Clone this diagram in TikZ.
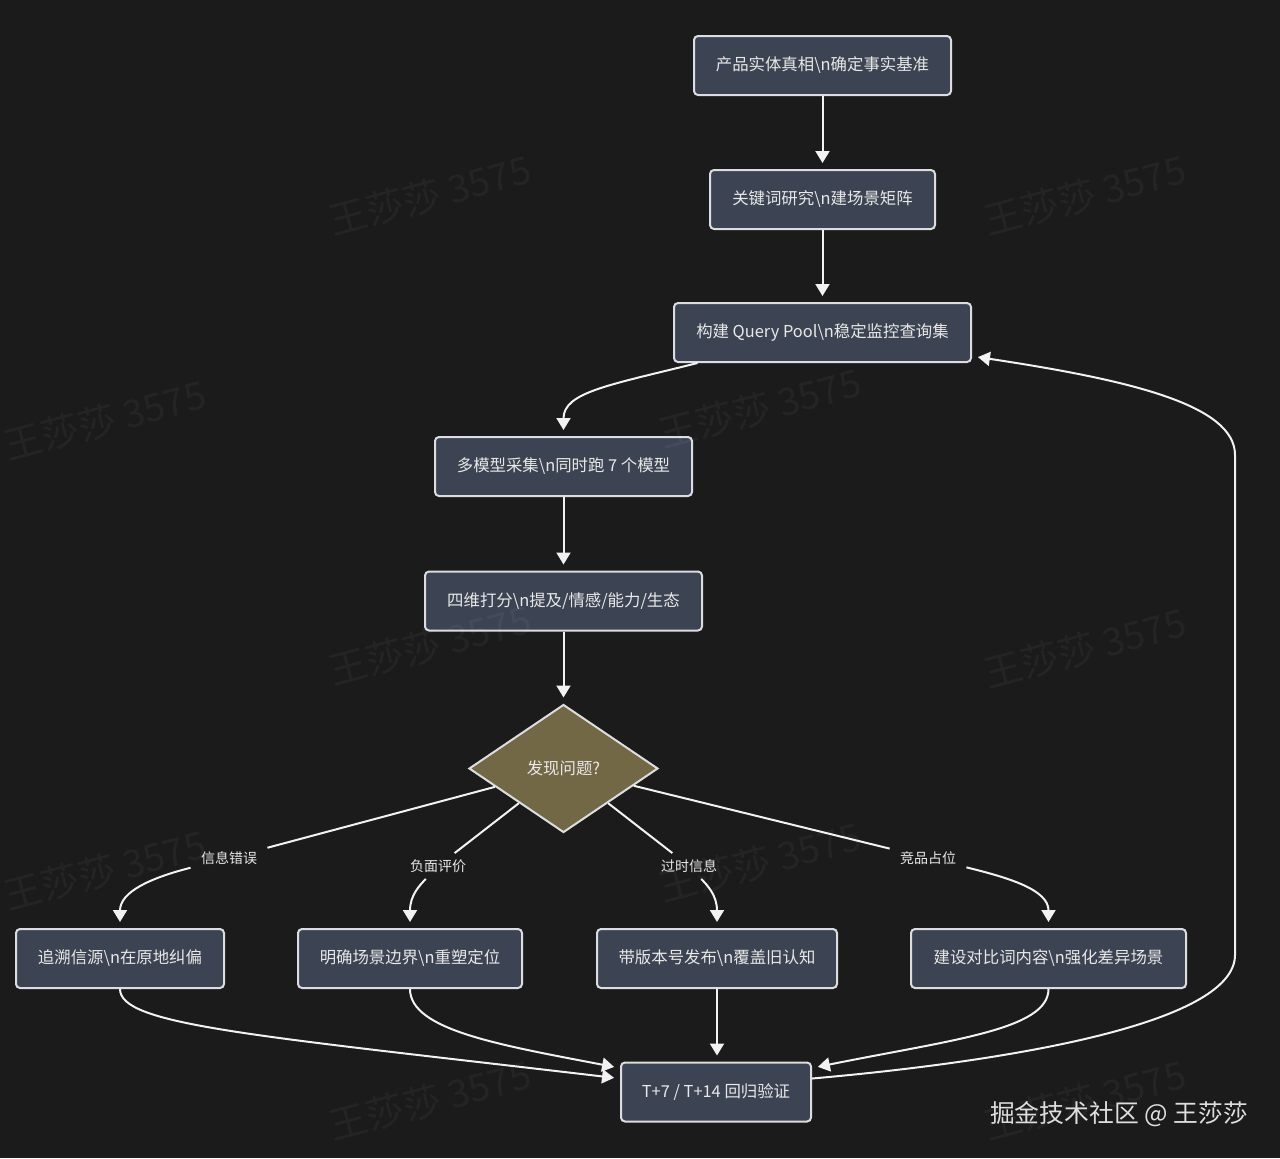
\documentclass[tikz,border=0pt]{standalone}
\usepackage{fontspec}
\setmainfont{Noto Sans CJK SC}
\usetikzlibrary{shapes.geometric,arrows.meta,calc}
\definecolor{bg}{HTML}{1B1B1B}
\definecolor{boxfill}{HTML}{3C4352}
\definecolor{boxline}{HTML}{DCDDE0}
\definecolor{dfill}{HTML}{736845}
\definecolor{txt}{HTML}{E8E8E8}
\definecolor{edge}{HTML}{F2F2F2}
\begin{document}
\begin{tikzpicture}[x=0.5pt,y=-0.5pt,
  box/.style={draw=boxline, line width=1pt, fill=boxfill, rounded corners=2pt,
    text=txt, minimum height=29.5pt, inner sep=0pt,
    font=\fontsize{8.2}{10}\selectfont},
  dec/.style={diamond, draw=boxline, line width=1pt, fill=dfill, aspect=1.48,
    minimum width=94.5pt, minimum height=64pt, inner sep=0pt, text=txt,
    font=\fontsize{8.2}{10}\selectfont},
  lbl/.style={text=txt, inner xsep=5pt, inner ysep=3pt,
    font=\fontsize{7}{8}\selectfont},
  line/.style={draw=edge, line width=1pt},
  arr/.style={line, -{Triangle[width=7pt,length=6pt]}, shorten >=3pt},
  wm/.style={text=white, opacity=0.045, rotate=15, font=\fontsize{19}{22}\selectfont},
]
\useasboundingbox (0,0) rectangle (1280,1158);
\fill[bg] (0,0) rectangle (1280,1158);

% nodes
\node[box, minimum width=128.5pt] (n1) at (822.5,65.5) {产品实体真相\textbackslash n确定事实基准};
\node[box, minimum width=112.5pt] (n2) at (822.5,199.5) {关键词研究\textbackslash n建场景矩阵};
\node[box, minimum width=148.5pt] (n3) at (822.5,332.5) {构建 Query Pool\textbackslash n稳定监控查询集};
\node[box, minimum width=128.5pt] (n4) at (563.5,466.5) {多模型采集\textbackslash n同时跑 7 个模型};
\node[box, minimum width=138.5pt] (n5) at (563.5,601) {四维打分\textbackslash n提及/情感/能力/生态};
\node[dec] (d) at (563.5,768.5) {发现问题?};
\node[box, minimum width=104pt] (n7) at (120,958.5) {追溯信源\textbackslash n在原地纠偏};
\node[box, minimum width=112pt] (n8) at (410,958.5) {明确场景边界\textbackslash n重塑定位};
\node[box, minimum width=120pt] (n9) at (717,958.5) {带版本号发布\textbackslash n覆盖旧认知};
\node[box, minimum width=137.5pt] (n10) at (1048.5,958.5) {建设对比词内容\textbackslash n强化差异场景};
\node[box, minimum width=95pt] (n11) at (716,1092) {T+7 / T+14 回归验证};

% labels
\node[lbl] (l1) at (229,858) {信息错误};
\node[lbl] (l2) at (438,866) {负面评价};
\node[lbl] (l3) at (689,866) {过时信息};
\node[lbl] (l4) at (928,858) {竞品占位};

% edges
\draw[arr] (n1) -- (n2);
\draw[arr] (n2) -- (n3);
\draw[arr] ($(n3.south)+(-125,0)$) .. controls (610,385) and (563.5,392) .. (n4.north);
\draw[arr] (n4) -- (n5);
\draw[arr] (n5) -- (d);

\draw[line] (d) -- (l1);
\draw[arr] (l1) .. controls (150,878) and (120,892) .. (n7.north);
\draw[line] (d) -- (l2);
\draw[arr] (l2) .. controls (420,885) and (410,895) .. (n8.north);
\draw[line] (d) -- (l3);
\draw[arr] (l3) .. controls (707,885) and (717,895) .. (n9.north);
\draw[line] (d) -- (l4);
\draw[arr] (l4) .. controls (1010,878) and (1048.5,890) .. (n10.north);

\draw[arr] (n7.south) .. controls (120,1025) and (250,1035) .. (n11.172);
\draw[arr] (n8.south) .. controls (410,1030) and (500,1045) .. (n11.166);
\draw[arr] (n9.south) -- (n9.south |- n11.north);
\draw[arr] (n10.south) .. controls (1048.5,1030) and (950,1040) .. (n11.14);
\draw[arr] (n11.8) .. controls (1000,1062) and (1235,1025) .. (1235,955)
  -- (1235,455) .. controls (1235,405) and (1130,380) .. (n3.-9.5);

% watermarks
\node[wm] (w1) at (430,195) {王莎莎 3575};
\node[wm] (w2) at (1085,195) {王莎莎 3575};
\node[wm] (w3) at (105,420) {王莎莎 3575};
\node[wm] (w4) at (760,408) {王莎莎 3575};
\node[wm] (w5) at (430,645) {王莎莎 3575};
\node[wm] (w6) at (1085,648) {王莎莎 3575};
\node[wm] (w7) at (105,870) {王莎莎 3575};
\node[wm] (w8) at (760,862) {王莎莎 3575};
\node[wm] (w9) at (430,1100) {王莎莎 3575};
\node[wm] (w10) at (1085,1100) {王莎莎 3575};

% footer
\node[text=txt!90!gray, font=\fontsize{12.4}{14}\selectfont, inner sep=0pt] (ft) at (1119,1114) {掘金技术社区 @ 王莎莎};
\end{tikzpicture}
\end{document}
